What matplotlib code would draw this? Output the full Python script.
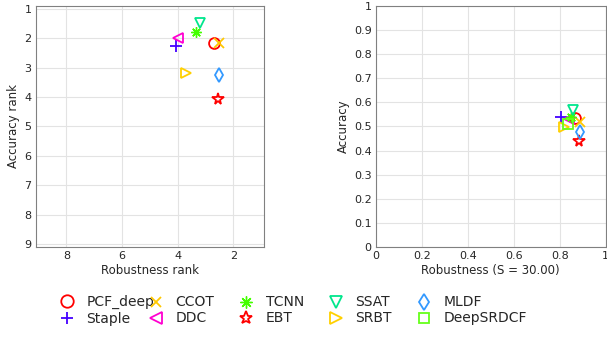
import matplotlib
matplotlib.use("Agg")
import matplotlib.pyplot as plt
from matplotlib.lines import Line2D

trackers = ["PCF_deep", "Staple", "CCOT", "DDC", "TCNN", "EBT", "SSAT", "SRBT", "MLDF", "DeepSRDCF"]
markers = ["o", "+", "x", "<", (8, 2, 0), "*", "v", ">", "d", "s"]
sizes = [7.8, 8, 6.5, 7.8, 7.5, 8.5, 7.8, 7.8, 7.5, 6.5]
colors = ["#ff0000", "#4400ff", "#ffc800", "#ff00d0", "#44ff00", "#ff0000",
          "#00e68c", "#ffd000", "#3399ff", "#66ff1a"]

# ranking plot (DeepSRDCF not drawn there)
robustness_rank = [2.69, 4.07, 2.51, 3.98, 3.34, 2.56, 3.21, 3.72, 2.51, None]
accuracy_rank = [2.15, 2.26, 2.17, 2.00, 1.79, 4.06, 1.49, 3.19, 3.23, None]

# raw scores
robustness = [0.865, 0.807, 0.887, 0.840, 0.850, 0.884, 0.858, 0.820, 0.887, 0.836]
accuracy = [0.534, 0.538, 0.520, 0.530, 0.540, 0.440, 0.568, 0.497, 0.478, 0.510]

text_col = "#262626"
plt.rcParams["font.family"] = "DejaVu Sans"


def marker_style(i):
    mew = 1.0 if i == 4 else 1.3
    return dict(marker=markers[i], linestyle="none", markerfacecolor="none",
                markeredgecolor=colors[i], markeredgewidth=mew, markersize=sizes[i])


def style_axes(ax):
    ax.grid(True, color="#e3e3e3", linewidth=0.8)
    ax.set_axisbelow(True)
    for sp in ax.spines.values():
        sp.set_color("#808080")
    ax.tick_params(colors=text_col, labelsize=8, length=0, pad=3)


fig = plt.figure(figsize=(6.07, 3.4), dpi=100)
ax1 = fig.add_axes([0.059, 0.274, 0.376, 0.708])
ax2 = fig.add_axes([0.619, 0.274, 0.379, 0.708])

handles = []
for i, name in enumerate(trackers):
    kw = marker_style(i)
    if robustness_rank[i] is not None:
        ax1.plot(robustness_rank[i], accuracy_rank[i], **kw)
    ax2.plot(robustness[i], accuracy[i], **kw)
    handles.append(Line2D([], [], label=name, **kw))

ax1.set_xlim(9.1, 0.9)
ax1.set_ylim(9.1, 0.9)
ax1.set_xticks([8, 6, 4, 2])
ax1.set_yticks(range(1, 10))
ax1.set_xlabel("Robustness rank", color=text_col, fontsize=8.5, labelpad=2)
ax1.set_ylabel("Accuracy rank", color=text_col, fontsize=8.5, labelpad=3)
style_axes(ax1)

ax2.set_xlim(0, 1)
ax2.set_ylim(0, 1)
ax2.set_xticks([0, 0.2, 0.4, 0.6, 0.8, 1])
ax2.set_xticklabels(["0", "0.2", "0.4", "0.6", "0.8", "1"])
ax2.set_yticks([i / 10 for i in range(11)])
ax2.set_yticklabels(["0"] + [f"{i / 10:.1f}" for i in range(1, 10)] + ["1"])
ax2.set_xlabel("Robustness (S = 30.00)", color=text_col, fontsize=8.5, labelpad=2)
ax2.set_ylabel("Accuracy", color=text_col, fontsize=8.5, labelpad=3)
style_axes(ax2)

# legend: fixed-width columns, two entries each
col_x = [0.099, 0.246, 0.394, 0.542, 0.687]
for c in range(5):
    fig.legend(handles=handles[2 * c:2 * c + 2], loc="center left",
               bbox_to_anchor=(col_x[c], 0.087), frameon=False, fontsize=10,
               handlelength=1.0, handletextpad=0.9, labelspacing=0.15,
               borderpad=0, borderaxespad=0, labelcolor=text_col, markerscale=1.15)

fig.savefig("out.png", dpi=100)
